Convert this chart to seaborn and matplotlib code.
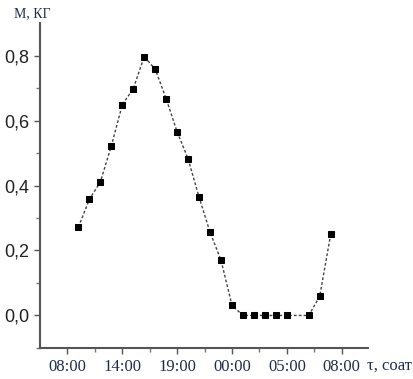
import matplotlib
matplotlib.use("Agg")
import matplotlib.pyplot as plt
import seaborn as sns
import pandas as pd
from matplotlib.ticker import FixedLocator

# data (x = hour index from first 08:00 tick)
hours = [1, 2, 3, 4, 5, 6, 7, 8, 9, 10, 11, 12, 13, 14, 15, 16, 17, 18, 19, 20, 22, 23, 24]
mass = [0.272, 0.358, 0.411, 0.522, 0.649, 0.698, 0.797, 0.758, 0.667, 0.565, 0.482,
        0.364, 0.256, 0.170, 0.031, 0.0, 0.0, 0.0, 0.0, 0.0, 0.0, 0.059, 0.250]
tick_pos = [0, 5, 10, 15, 20, 25]
tick_labels = ["08:00", "14:00", "19:00", "00:00", "05:00", "08:00"]
ytick_vals = [0.0, 0.2, 0.4, 0.6, 0.8]
ytick_labels = ["0,0", "0,2", "0,4", "0,6", "0,8"]

sns.set_style("ticks")
df = pd.DataFrame({"t": hours, "m": mass})

fig = plt.figure(figsize=(4.13, 3.79), dpi=100)
ax = fig.add_axes([0.097, 0.082, 0.794, 0.857])

sns.lineplot(data=df, x="t", y="m", ax=ax, color="#444444", linewidth=1.0,
             linestyle=(0, (2, 1.5)), marker="s", markersize=4.6,
             markerfacecolor="black", markeredgecolor="black")

ax.set_xlim(-2.5, 27.4)
ax.set_ylim(-0.1, 0.9)
ax.xaxis.set_major_locator(FixedLocator(tick_pos))
ax.set_xticklabels(tick_labels, family="Liberation Serif", fontsize=12, color="#1f2d4d")
ax.xaxis.set_minor_locator(FixedLocator([2.5, 7.5, 12.5, 17.5, 22.5]))
ax.yaxis.set_major_locator(FixedLocator(ytick_vals))
ax.set_yticklabels(ytick_labels, family="Liberation Sans", fontsize=13, color="#222222")
ax.yaxis.set_minor_locator(FixedLocator([-0.1, 0.1, 0.3, 0.5, 0.7]))

for s in ["top", "right"]:
    ax.spines[s].set_visible(False)
for s in ["left", "bottom"]:
    ax.spines[s].set_color("#555555")
    ax.spines[s].set_linewidth(1.5)

ax.tick_params(axis="both", which="major", length=4, width=1, color="#555555", pad=4)
ax.tick_params(axis="both", which="minor", length=3, width=1, color="#777777")
ax.set_xlabel("")
ax.set_ylabel("")

fig.text(0.035, 0.965, "М, КГ", family="Liberation Serif", fontsize=10,
         color="#1f2d4d", ha="left", va="center")
fig.text(0.998, 0.035, "τ, соат", family="Liberation Serif", fontsize=12,
         color="#1f2d4d", ha="right", va="center")

fig.savefig("out.png", dpi=100)
